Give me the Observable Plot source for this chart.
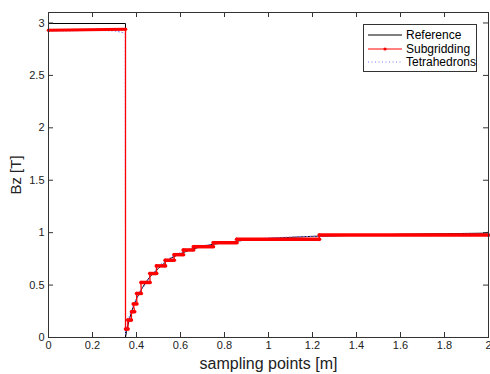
<!DOCTYPE html>
<html>
<head>
<meta charset="utf-8">
<script src="https://cdn.jsdelivr.net/npm/d3@7"></script>
<script src="https://cdn.jsdelivr.net/npm/@observablehq/plot@0.6"></script>
<style>
  html, body { margin: 0; padding: 0; background: #fff; }
  #wrap { position: relative; width: 490px; height: 374px; overflow: hidden; font-family: "Liberation Sans", Arial, sans-serif; }
  #legend { position: absolute; left: 363px; top: 24px; width: 114px; height: 48px; border: 1px solid #333; background: #fff; box-sizing: border-box; font-size: 12px; color: #000; }
  .row { position: absolute; left: 4px; height: 14px; display: flex; align-items: center; }
  .row svg { width: 34px; height: 14px; margin-right: 4px; }
</style>
</head>
<body>
<div id="wrap"></div>
<script>
// ---- data ----
const xTicks = [0, 0.2, 0.4, 0.6, 0.8, 1, 1.2, 1.4, 1.6, 1.8, 2];
const yTicks = [0, 0.5, 1, 1.5, 2, 2.5, 3];

// Reference (black)
const refX = [0, 0.35, 0.35, 0.355, 0.36, 0.37, 0.38, 0.39, 0.40, 0.42, 0.44, 0.46, 0.48, 0.50, 0.53, 0.56, 0.60, 0.65, 0.70, 0.75, 0.80, 0.90, 1.00, 1.10, 1.20, 1.40, 1.60, 1.80, 1.98, 2.0];
const refY = [2.995, 2.995, 0.0, 0.06, 0.11, 0.19, 0.26, 0.32, 0.37, 0.45, 0.52, 0.575, 0.62, 0.66, 0.715, 0.76, 0.80, 0.84, 0.87, 0.89, 0.905, 0.93, 0.945, 0.955, 0.965, 0.975, 0.985, 0.99, 0.995, 1.005];

// Subgridding (red): leading plateau then staircase
const subTopX = [0, 0.35];
const subTopY = [2.93, 2.94];
const stepX1 = [0.350, 0.360, 0.377, 0.385, 0.400, 0.420, 0.460, 0.490, 0.530, 0.570, 0.612, 0.658, 0.748, 0.855, 1.230];
const stepX2 = [0.362, 0.377, 0.392, 0.402, 0.422, 0.462, 0.492, 0.532, 0.572, 0.614, 0.660, 0.750, 0.857, 1.232, 2.000];
const stepY  = [0.08, 0.166, 0.245, 0.32, 0.42, 0.525, 0.61, 0.683, 0.737, 0.79, 0.835, 0.866, 0.904, 0.936, 0.978];

// Tetrahedrons (blue dotted)
const tetX = [0, 0.10, 0.20, 0.30, 0.335, 0.349, 0.35, 0.355, 0.36, 0.37, 0.38, 0.39, 0.40, 0.42, 0.44, 0.46, 0.48, 0.50, 0.53, 0.56, 0.60, 0.65, 0.70, 0.80, 0.90, 1.00, 1.20, 1.40, 1.60, 1.80, 2.0];
const tetY = [2.925, 2.925, 2.93, 2.925, 2.91, 2.90, 0.03, 0.08, 0.15, 0.22, 0.27, 0.33, 0.37, 0.46, 0.50, 0.58, 0.62, 0.68, 0.73, 0.77, 0.81, 0.85, 0.875, 0.905, 0.93, 0.95, 0.965, 0.975, 0.98, 0.985, 0.99];

// ---- build tables ----
const ref = refX.map((x, i) => ({x, y: refY[i]}));
const tet = tetX.map((x, i) => ({x, y: tetY[i]}));
const steps = stepY.map((y, i) => ({x1: stepX1[i], x2: stepX2[i], y}));
const subLine = subTopX.map((x, i) => ({x, y: subTopY[i]}));
steps.forEach(s => { subLine.push({x: s.x1, y: s.y}); subLine.push({x: s.x2, y: s.y}); });
const subTop = [{x1: subTopX[0], x2: subTopX[1], y1: subTopY[0], y2: subTopY[1]}];

const W = 490, H = 374, mL = 48, mR = 2, mT = 12, mB = 37;
const pw = W - mL - mR, ph = H - mT - mB, tk = 5;
const axisColor = "#333";

const chart = Plot.plot({
  width: W, height: H,
  marginLeft: mL, marginRight: mR, marginTop: mT, marginBottom: mB,
  style: {fontFamily: "'Liberation Sans', Arial, sans-serif", background: "#fff", color: "#222"},
  x: {domain: [0, 2]},
  y: {domain: [0, 3.1]},
  marks: [
    Plot.line(ref, {x: "x", y: "y", stroke: "#000", strokeWidth: 1}),
    Plot.line(tet, {x: "x", y: "y", stroke: "#7a7aff", strokeWidth: 1, strokeDasharray: "1,2.5"}),
    Plot.line(subLine, {x: "x", y: "y", stroke: "#ff0000", strokeWidth: 1.3}),
    Plot.ruleY(steps, {x1: "x1", x2: "x2", y: "y", stroke: "#ff0000", strokeWidth: 3.5}),
    Plot.link(subTop, {x1: "x1", x2: "x2", y1: "y1", y2: "y2", stroke: "#ff0000", strokeWidth: 3}),
    Plot.dot(subLine, {x: "x", y: "y", r: 1.8, fill: "#ff0000", stroke: "none"}),
    Plot.frame({stroke: axisColor, strokeWidth: 1}),
    Plot.tickX(xTicks, {x: d => d, insetTop: ph - tk, stroke: axisColor}),
    Plot.tickX(xTicks, {x: d => d, insetBottom: ph - tk, stroke: axisColor}),
    Plot.tickY(yTicks, {y: d => d, insetLeft: pw - tk, stroke: axisColor}),
    Plot.tickY(yTicks, {y: d => d, insetRight: pw - tk, stroke: axisColor}),
    Plot.axisX({ticks: xTicks, tickSize: 0, tickPadding: 4, fontSize: 11, label: null, tickFormat: d => String(d)}),
    Plot.axisY({ticks: yTicks, tickSize: 0, tickPadding: 4, fontSize: 11, label: null, tickFormat: d => String(d)}),
    Plot.axisX({ticks: [], tickSize: 0, label: "sampling points [m]", labelAnchor: "center", labelArrow: false, labelOffset: 31, fontSize: 16}),
    Plot.axisY({ticks: [], tickSize: 0, label: "Bz [T]", labelAnchor: "center", labelArrow: false, labelOffset: 38, fontSize: 15})
  ]
});

const wrap = document.getElementById("wrap");
wrap.appendChild(chart);

// legend
const legend = document.createElement("div");
legend.id = "legend";
const items = [
  {label: "Reference", stroke: "#000", dash: null, dot: false},
  {label: "Subgridding", stroke: "#ff0000", dash: null, dot: true},
  {label: "Tetrahedrons", stroke: "#7a7aff", dash: "1,2.5", dot: false}
];
items.forEach((it, i) => {
  const row = document.createElement("div");
  row.className = "row";
  row.style.top = (3 + i * 13.5) + "px";
  const ns = "http://www.w3.org/2000/svg";
  const s = document.createElementNS(ns, "svg");
  s.setAttribute("viewBox", "0 0 34 14");
  const l = document.createElementNS(ns, "line");
  l.setAttribute("x1", 0); l.setAttribute("x2", 34); l.setAttribute("y1", 7); l.setAttribute("y2", 7);
  l.setAttribute("stroke", it.stroke); l.setAttribute("stroke-width", 1);
  if (it.dash) l.setAttribute("stroke-dasharray", it.dash);
  s.appendChild(l);
  if (it.dot) {
    const c = document.createElementNS(ns, "circle");
    c.setAttribute("cx", 17); c.setAttribute("cy", 7); c.setAttribute("r", 1.6); c.setAttribute("fill", it.stroke);
    s.appendChild(c);
  }
  row.appendChild(s);
  const t = document.createElement("span");
  t.textContent = it.label;
  row.appendChild(t);
  legend.appendChild(row);
});
wrap.appendChild(legend);
</script>
</body>
</html>
